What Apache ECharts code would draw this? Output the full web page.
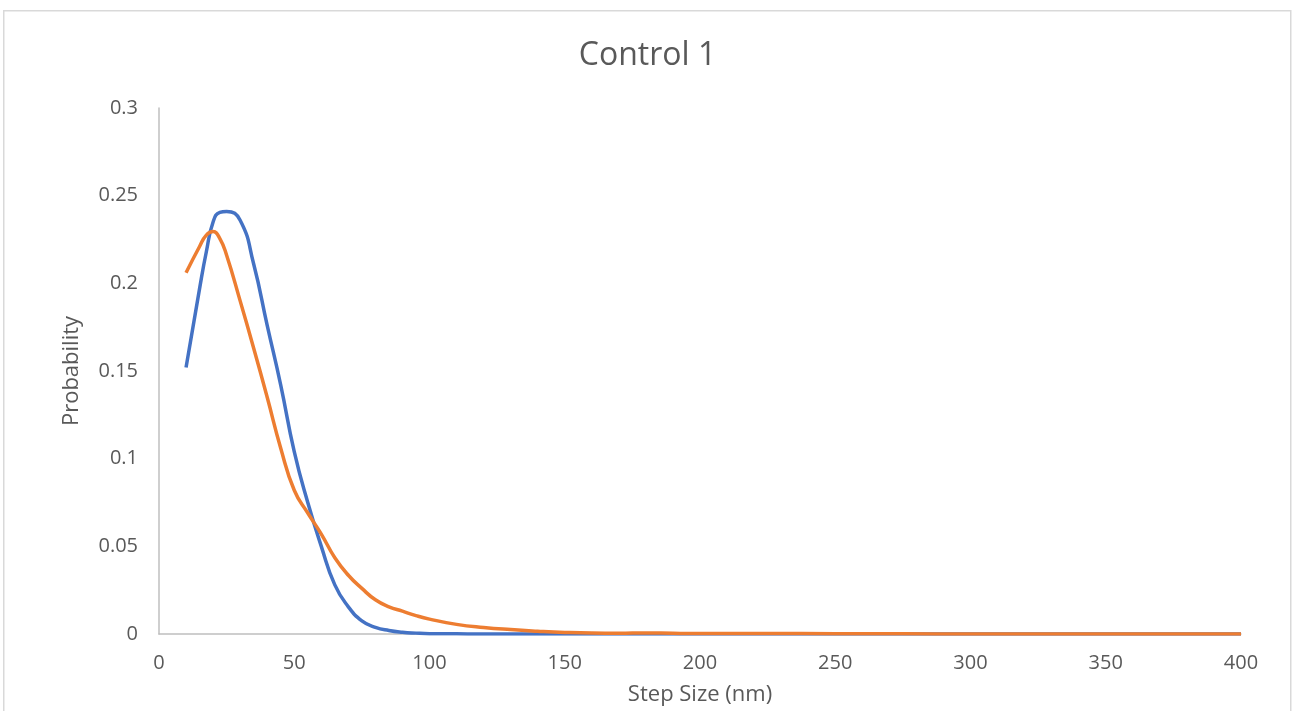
<!DOCTYPE html>
<html>
<head>
<meta charset="utf-8">
<script src="https://cdn.jsdelivr.net/npm/echarts@6/dist/echarts.min.js"></script>
<style>
html,body{margin:0;padding:0;background:#fff;overflow:hidden;}
#chart{width:1295px;height:711px;}
</style>
</head>
<body>
<div id="chart"></div>
<script>
var chartTitle = "Control 1";
var xAxisName = "Step Size (nm)";
var yAxisName = "Probability";
var seriesNames = ["Series1", "Series2"];

var stepSizes = [10,15,17.5,20,22.5,25,30,35,40,45,50,55,60,65,70,75,80,85,90,95,100,110,120,130,140,150,160,170,180,190,200,225,250,275,300,325,350,375,400];
var blueValues = [0.152,0.197,0.218,0.235,0.2405,0.241,0.236,0.211,0.176,0.142,0.104,0.075,0.050,0.028,0.0155,0.0075,0.0038,0.002,0.001,0.0005,0.0002,0.0001,0,0,0,0,0,0,0,0,0,0,0,0,0,0,0,0,0];
var orangeValues = [0.206,0.221,0.2275,0.2295,0.2255,0.216,0.190,0.163,0.135,0.106,0.082,0.069,0.057,0.0435,0.0335,0.026,0.0195,0.0155,0.013,0.0105,0.0085,0.0055,0.0037,0.0025,0.0016,0.0009,0.0005,0.0004,0.0006,0.0004,0.0003,0.0003,0.0002,0.0001,0,0,0,0,0];

function pairs(xs, ys){ return xs.map(function(x,i){ return [x, ys[i]]; }); }

var font = "'Open Sans', 'Liberation Sans', sans-serif";
var chart = echarts.init(document.getElementById('chart'), null, {renderer:'canvas'});
chart.setOption({
  animation:false,
  backgroundColor:'#ffffff',
  graphic:[{
    type:'rect', left:3, top:10, z:-1,
    shape:{width:1287, height:720},
    style:{fill:'#ffffff', stroke:'#d9d9d9', lineWidth:1.5}
  }],
  title:{
    text:chartTitle, left:'center', top:35,
    textStyle:{fontFamily:font, fontSize:32, fontWeight:'normal', color:'#595959'}
  },
  grid:{left:159, width:1082, top:108, height:526, containLabel:false, outerBoundsMode:'none'},
  xAxis:{
    type:'value', min:0, max:400, interval:50,
    name:xAxisName, nameLocation:'middle', nameGap:50,
    nameTextStyle:{fontFamily:font, fontSize:22, color:'#595959'},
    axisLine:{show:true, lineStyle:{color:'#bfbfbf', width:1.5}},
    axisTick:{show:false},
    splitLine:{show:false},
    axisLabel:{fontFamily:font, fontSize:20, color:'#595959', margin:19}
  },
  yAxis:{
    type:'value', min:0, max:0.3, interval:0.05,
    name:yAxisName, nameLocation:'middle', nameGap:76,
    nameTextStyle:{fontFamily:font, fontSize:22, color:'#595959'},
    axisLine:{show:true, lineStyle:{color:'#bfbfbf', width:1.5}},
    axisTick:{show:false},
    splitLine:{show:false},
    axisLabel:{fontFamily:font, fontSize:20, color:'#595959', margin:21}
  },
  series:[
    {name:seriesNames[0], type:'line', smooth:0.5, showSymbol:false, symbol:'none',
     data:pairs(stepSizes, blueValues), lineStyle:{color:'#4472C4', width:3.5}, itemStyle:{color:'#4472C4'}},
    {name:seriesNames[1], type:'line', smooth:0.5, showSymbol:false, symbol:'none',
     data:pairs(stepSizes, orangeValues), lineStyle:{color:'#ED7D31', width:3.5}, itemStyle:{color:'#ED7D31'}}
  ]
});
</script>
</body>
</html>
